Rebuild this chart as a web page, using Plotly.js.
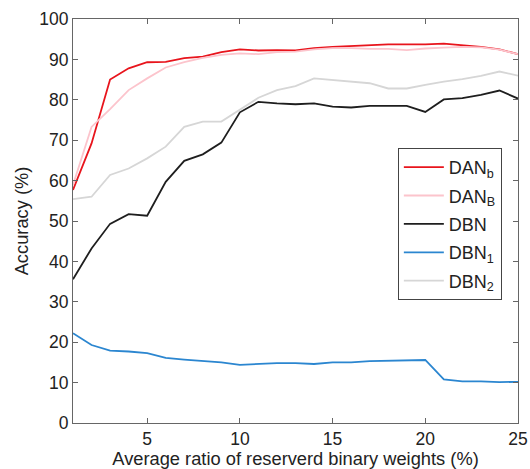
<!DOCTYPE html>
<html>
<head>
<meta charset="utf-8">
<script src="https://cdn.plot.ly/plotly-3.0.1.min.js"></script>
<style>html,body{margin:0;padding:0;background:#fff;}#chart{width:530px;height:469px;}</style>
</head>
<body>
<div id="chart"></div>
<script>
const xRatio = [1,2,3,4,5,6,7,8,9,10,11,12,13,14,15,16,17,18,19,20,21,22,23,24,25];
const seriesNames = ["DAN<sub>b</sub>", "DAN<sub>B</sub>", "DBN", "DBN<sub>1</sub>", "DBN<sub>2</sub>"];
const danSmallB = [57.7,69.2,85.0,87.8,89.3,89.4,90.3,90.7,91.8,92.5,92.2,92.3,92.2,92.8,93.1,93.3,93.5,93.7,93.7,93.7,93.9,93.5,93.1,92.5,91.3];
const danBigB   = [58.9,73.3,77.7,82.4,85.3,88.0,89.3,90.4,91.1,91.5,91.3,91.8,91.9,92.5,92.8,92.8,92.6,92.6,92.3,92.7,92.9,93.1,93.0,92.4,91.3];
const dbn       = [35.6,43.2,49.3,51.7,51.3,59.7,64.9,66.5,69.4,76.9,79.5,79.1,78.9,79.1,78.3,78.1,78.5,78.5,78.5,77.0,80.1,80.4,81.2,82.3,80.3];
const dbn1      = [22.2,19.3,17.9,17.7,17.3,16.1,15.7,15.3,15.0,14.4,14.6,14.8,14.8,14.6,15.0,15.0,15.3,15.4,15.4,15.6,10.8,10.3,10.3,10.1,10.2];
const dbn2      = [55.4,56.0,61.4,63.0,65.5,68.4,73.3,74.6,74.6,77.5,80.5,82.4,83.4,85.3,84.9,84.5,84.1,82.8,82.8,83.7,84.5,85.1,85.9,87.0,86.0];
const xTicks = [5,10,15,20,25];
const yTicks = [0,10,20,30,40,50,60,70,80,90,100];

const colors = ["#e8141c", "#fcc4cc", "#1e1e1e", "#2b86d0", "#d6d6d6"];
const values = [danSmallB, danBigB, dbn, dbn1, dbn2];

const traces = values.map((v, i) => ({
  x: xRatio, y: v, name: seriesNames[i], type: "scatter", mode: "lines",
  legendgroup: "g" + i,
  line: {color: colors[i], width: 1.8}
}));

const fontFam = "Liberation Sans, Arial, sans-serif";
const axisCommon = {
  showline: true, mirror: "ticks", linecolor: "#666", linewidth: 1,
  ticks: "inside", ticklen: 5, tickcolor: "#666", showgrid: false, zeroline: false,
  tickfont: {family: fontFam, size: 17.5, color: "#222"}
};

const layout = {
  width: 530, height: 469,
  margin: {l: 73, r: 12, t: 19, b: 46},
  paper_bgcolor: "#fff", plot_bgcolor: "#fff",
  showlegend: true,
  legend: {
    x: 0.730, y: 0.681, xanchor: "left", yanchor: "top",
    bgcolor: "#fff", bordercolor: "#444", borderwidth: 1,
    font: {family: fontFam, size: 18, color: "#222"},
    tracegroupgap: 2, itemwidth: 40
  },
  xaxis: Object.assign({}, axisCommon, {
    range: [1, 25], tickvals: xTicks,
    title: {text: "Average ratio of reserverd binary weights (%)", standoff: 5,
      font: {family: fontFam, size: 18.3, color: "#222"}}
  }),
  yaxis: Object.assign({}, axisCommon, {
    range: [0, 100], tickvals: yTicks,
    title: {text: "Accuracy (%)", standoff: 5,
      font: {family: fontFam, size: 18.3, color: "#222"}}
  })
};

Plotly.newPlot("chart", traces, layout, {displayModeBar: false, staticPlot: true});
</script>
</body>
</html>
